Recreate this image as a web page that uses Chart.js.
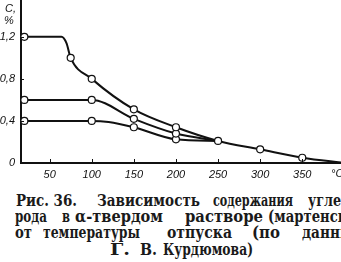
<!DOCTYPE html>
<html>
<head>
<meta charset="utf-8">
<script src="https://cdn.jsdelivr.net/npm/chart.js@4"></script>
<style>
  body { margin: 0; background: #fff; width: 341px; height: 262px; overflow: hidden; position: relative; }
  #wrap { position: absolute; left: 0; top: 0; width: 341px; height: 182px; }
  .w { position: absolute; font-family: "DejaVu Serif", serif; font-size: 16px; font-weight: bold; color: #1a1a1a; white-space: nowrap; line-height: 16px; transform-origin: 0 0; }
</style>
</head>
<body>
<div id="wrap"><canvas id="chart" width="341" height="182"></canvas></div>
<div id="caption"></div>
<script>
// temperature of tempering, deg C  /  carbon in martensite, %
const topTemps = [20, 64, 70, 75, 100, 150, 200, 250, 300, 350, 400];
const topCarbon = [1.2, 1.2, 1.14, 1.0, 0.8, 0.51, 0.34, 0.21, 0.13, 0.05, 0];
const topMarks = [1, 0, 0, 1, 1, 1, 1, 1, 1, 1, 0];

const midTemps = [20, 100, 150, 200, 250];
const midCarbon = [0.6, 0.6, 0.42, 0.28, 0.21];
const midMarks = [1, 1, 1, 1, 0];

const lowTemps = [20, 100, 120, 150, 200, 250];
const lowCarbon = [0.4, 0.4, 0.39, 0.34, 0.225, 0.21];
const lowMarks = [1, 1, 0, 1, 1, 0];

const xTicks = [50, 100, 150, 200, 250, 300, 350];
const yTicks = [0, 0.4, 0.8, 1.2];

// caption words: [text, left, baseline, width in the scan (0 = cut off)]
const captionWords = [
  ["Рис. 36.", 16, 206, 61], ["Зависимость", 97, 206, 103], ["содержания", 213, 206, 80], ["угле-", 308, 206, 0],
  ["рода", 15, 222, 32], ["в", 62, 222, 8], ["α-твердом", 75, 222, 88], ["растворе", 185, 222, 78], ["(мартенсите)", 268, 222, 0],
  ["от", 15, 238, 17], ["температуры", 43, 238, 97], ["отпуска", 167, 238, 65], ["(по", 252, 238, 28], ["данным", 302, 238, 0],
  ["Г.", 110, 255, 20], ["В.", 140, 255, 17], ["Курдюмова)", 163, 255, 90]
];

const cap = document.getElementById("caption");
const lineScale = {};
const made = captionWords.map(([t, x, base, w]) => {
  const d = document.createElement("div");
  d.className = "w";
  d.textContent = t;
  d.style.left = x + "px";
  d.style.top = (base - 13.5) + "px";
  cap.appendChild(d);
  const natural = d.getBoundingClientRect().width;
  if (w) {
    const k = w / natural;
    (lineScale[base] = lineScale[base] || []).push(k);
    d.style.transform = "scaleX(" + k + ")";
  }
  return [d, w, base];
});
// words cut by the right edge get the average squeeze of their line
made.forEach(([d, w, base]) => {
  if (!w) {
    const ks = lineScale[base];
    const k = ks.reduce((a, b) => a + b, 0) / ks.length;
    d.style.transform = "scaleX(" + k + ")";
  }
});

function toPoints(xs, ys) {
  return xs.map((x, i) => ({ x: x, y: ys[i] }));
}

function lineSet(xs, ys, marks) {
  return {
    data: toPoints(xs, ys),
    borderColor: "#111",
    borderWidth: 2,
    cubicInterpolationMode: "monotone",
    pointRadius: marks.map((m) => (m ? 3.5 : 0)),
    pointBackgroundColor: "#fff",
    pointBorderColor: "#111",
    pointBorderWidth: 1.2,
    fill: false,
    clip: 6,
  };
}

const fmt = (v) => String(v).replace(".", ",");

// inward ticks and axis captions
const extras = {
  id: "extras",
  afterDraw(chart) {
    const ctx = chart.ctx;
    const xs = chart.scales.x, ys = chart.scales.y;
    const a = chart.chartArea;
    ctx.save();
    ctx.strokeStyle = "#111";
    ctx.lineWidth = 1;
    xTicks.forEach((t) => {
      const px = Math.round(xs.getPixelForValue(t)) + 0.5;
      ctx.beginPath(); ctx.moveTo(px, a.bottom); ctx.lineTo(px, a.bottom - 4); ctx.stroke();
    });
    yTicks.forEach((t) => {
      const py = Math.round(ys.getPixelForValue(t)) + 0.5;
      ctx.beginPath(); ctx.moveTo(a.left, py); ctx.lineTo(a.left + 3, py); ctx.stroke();
    });
    ctx.fillStyle = "#111";
    ctx.font = "italic 11px 'Liberation Sans'";
    ctx.textAlign = "left";
    ctx.textBaseline = "alphabetic";
    ctx.fillText("C,", 5, 12);
    ctx.fillText("%", 4, 24);
    ctx.fillText("°C", 331, a.bottom + 14);
    ctx.restore();
  },
};

new Chart(document.getElementById("chart"), {
  type: "line",
  data: {
    datasets: [
      lineSet(topTemps, topCarbon, topMarks),
      lineSet(midTemps, midCarbon, midMarks),
      lineSet(lowTemps, lowCarbon, lowMarks),
    ],
  },
  options: {
    responsive: false,
    animation: false,
    devicePixelRatio: 1,
    layout: { padding: 0, autoPadding: false },
    plugins: { legend: { display: false }, tooltip: { enabled: false } },
    scales: {
      x: {
        type: "linear",
        min: 16,
        max: 396,
        afterBuildTicks: (s) => { s.ticks = xTicks.map((v) => ({ value: v })); },
        afterFit: (s) => { s.height = 19; s.paddingLeft = 0; s.paddingRight = 0; },
        grid: { display: false, drawTicks: false },
        border: { display: true, color: "#111", width: 2 },
        ticks: {
          color: "#111",
          padding: 5,
          maxRotation: 0,
          autoSkip: false,
          font: { family: "Liberation Sans", style: "italic", size: 11 },
        },
      },
      y: {
        min: 0,
        max: 1.55,
        afterBuildTicks: (s) => { s.ticks = yTicks.map((v) => ({ value: v })); },
        afterFit: (s) => { s.width = 21; s.paddingTop = 0; s.paddingBottom = 0; },
        grid: { display: false, drawTicks: false },
        border: { display: true, color: "#111", width: 2 },
        ticks: {
          color: "#111",
          padding: 6,
          callback: (v) => fmt(v),
          font: { family: "Liberation Sans", style: "italic", size: 11 },
        },
      },
    },
  },
  plugins: [extras],
});
</script>
</body>
</html>
